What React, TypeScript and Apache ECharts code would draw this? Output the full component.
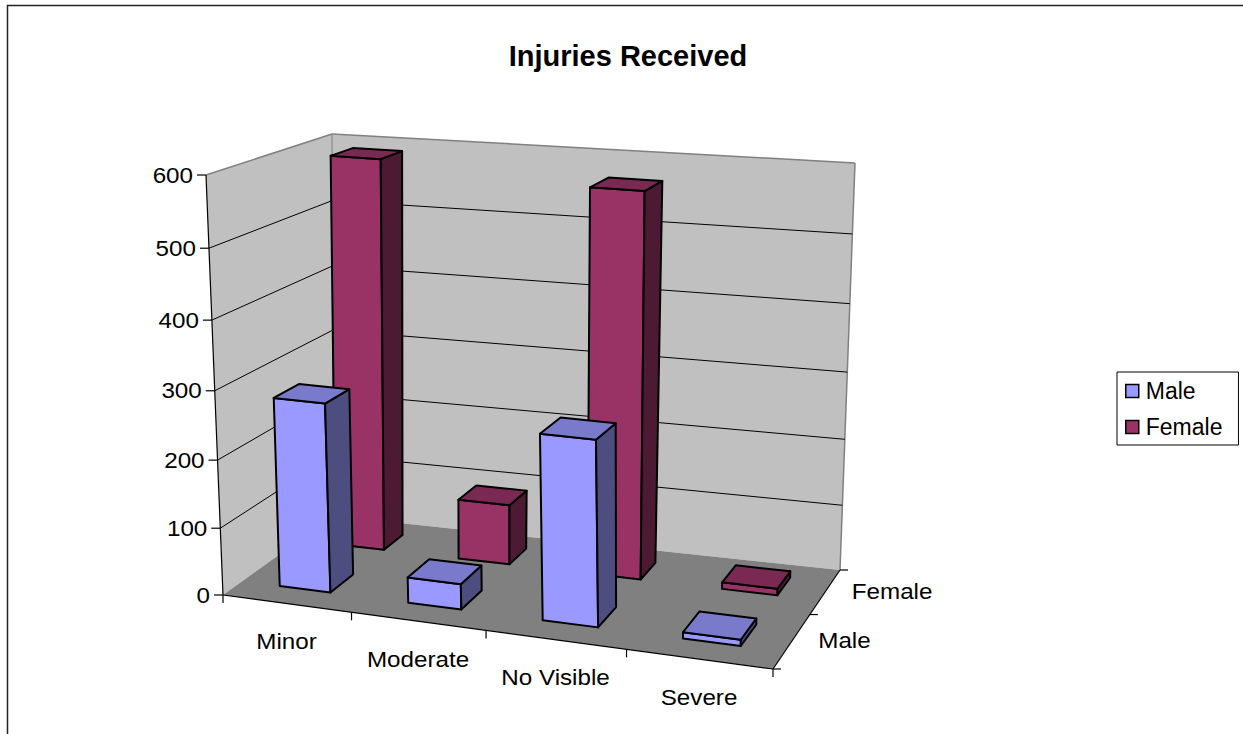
import React, { useEffect, useRef } from 'react';
import * as echarts from 'echarts';

const categories = ['Minor', 'Moderate', 'No Visible', 'Severe'];
const seriesNames = ['Male', 'Female'];
const maleValues = [280, 38, 270, 9];
const femaleValues = [590, 92, 570, 10];
const yTicks = [0, 100, 200, 300, 400, 500, 600];
const Y_MAX = 600;

const FONT = '"Liberation Sans", Arial, sans-serif';

// hidden helper grid: its scales map values to fractions of the 3D box
const GRID = { left: 0, top: 0, width: 400, height: 600 };

// screen corners of the 3D box floor and vertical vectors (full height)
const FL = [223, 595], FR = [773, 669], BL = [333, 516], BR = [840, 570];
const VFL = [-17, -420], VFR = [-3, -445], VBL = [-1, -382], VBR = [15, -407];

function bilin(a: number[], b: number[], c: number[], d: number[], sp: number, tp: number) {
  const fx = a[0] + sp * (b[0] - a[0]), fy = a[1] + sp * (b[1] - a[1]);
  const bx = c[0] + sp * (d[0] - c[0]), by = c[1] + sp * (d[1] - c[1]);
  return [fx + tp * (bx - fx), fy + tp * (by - fy)];
}
function proj(s: number, t: number, h: number) {
  const sp = s - 0.087 * s * (1 - s);
  const tp = t + 0.2 * t * (1 - t);
  const hp = h - 0.055 * h * (1 - h);
  const base = bilin(FL, FR, BL, BR, sp, tp);
  const v = bilin(VFL, VFR, VBL, VBR, sp, tp);
  return [base[0] + hp * v[0], base[1] + hp * v[1]];
}

const MALE_COLORS = { front: '#9999FF', side: '#4D4D80', top: '#7A7ACC' };
const FEMALE_COLORS = { front: '#993366', side: '#4D1A33', top: '#7A2952' };

function hOf(api: any, v: number) {
  const c = api.coord([0, v]);
  const b = api.coord([0, 0]);
  return (b[1] - c[1]) / GRID.height;
}

function makeBarRender(row: number, colors: any) {
  return (params: any, api: any) => {
    const idx = api.value(0);
    const val = api.value(1);
    const c = api.coord([idx, val]);
    const b = api.coord([idx, 0]);
    const band = api.size([1, 0])[0];
    const s0 = (c[0] - GRID.left - 0.2 * band) / GRID.width;
    const s1 = (c[0] - GRID.left + 0.2 * band) / GRID.width;
    const h = (b[1] - c[1]) / GRID.height;
    const nRows = seriesNames.length;
    const t0 = (row + 0.3) / nRows, t1 = (row + 0.7) / nRows;
    const face = (pts: number[][], fill: string) => ({
      type: 'polygon',
      shape: { points: pts },
      style: { fill, stroke: '#000', lineWidth: 2, lineJoin: 'round' },
    });
    return {
      type: 'group',
      children: [
        face([proj(s0, t0, 0), proj(s1, t0, 0), proj(s1, t0, h), proj(s0, t0, h)], colors.front),
        face([proj(s1, t0, 0), proj(s1, t1, 0), proj(s1, t1, h), proj(s1, t0, h)], colors.side),
        face([proj(s0, t0, h), proj(s1, t0, h), proj(s1, t1, h), proj(s0, t1, h)], colors.top),
      ],
    };
  };
}

function renderWalls(params: any, api: any) {
  const H = hOf(api, Y_MAX);
  const poly = (pts: number[][], fill: string) => ({ type: 'polygon', shape: { points: pts }, style: { fill, stroke: 'none' } });
  const ln = (a: number[], b: number[], stroke: string, w: number) => ({
    type: 'line', shape: { x1: a[0], y1: a[1], x2: b[0], y2: b[1] }, style: { stroke, lineWidth: w },
  });
  return {
    type: 'group',
    children: [
      poly([proj(0, 0, 0), proj(0, 1, 0), proj(0, 1, H), proj(0, 0, H)], '#C0C0C0'),
      poly([proj(0, 1, 0), proj(1, 1, 0), proj(1, 1, H), proj(0, 1, H)], '#C0C0C0'),
      poly([proj(0, 0, 0), proj(1, 0, 0), proj(1, 1, 0), proj(0, 1, 0)], '#808080'),
      ln(proj(0, 0, H), proj(0, 1, H), '#808080', 1.5),
      ln(proj(0, 1, H), proj(1, 1, H), '#808080', 1.5),
      ln(proj(0, 1, 0), proj(0, 1, H), '#808080', 1),
      ln(proj(1, 1, 0), proj(1, 1, H), '#808080', 1.5),
      ln(proj(0, 0, 0), proj(0, 0, H), '#000', 1.2),
      ln(proj(0, 0, 0), proj(1, 0, 0), '#000', 1.2),
      ln(proj(1, 0, 0), proj(1, 1, 0), '#000', 1.2),
    ],
  };
}

function renderGridTick(params: any, api: any) {
  const v = api.value(1);
  const h = hOf(api, v);
  const p = proj(0, 0, h);
  const children: any[] = [];
  if (v > 0 && v < Y_MAX) {
    children.push({
      type: 'polyline',
      shape: { points: [proj(0, 0, h), proj(0, 1, h), proj(1, 1, h)] },
      style: { stroke: '#000', lineWidth: 1, fill: 'none' },
    });
  }
  children.push({ type: 'line', shape: { x1: p[0] - 9, y1: p[1], x2: p[0], y2: p[1] }, style: { stroke: '#000', lineWidth: 1.2 } });
  children.push({
    type: 'text', x: p[0] - 13, y: p[1], scaleX: 1.1,
    style: { text: String(v), fontSize: 22, fontFamily: FONT, fill: '#000', align: 'right', verticalAlign: 'middle' },
  });
  return { type: 'group', children };
}

function renderCategory(params: any, api: any) {
  const i = params.dataIndex;
  const c = api.coord([api.value(0), 0]);
  const band = api.size([1, 0])[0];
  const sC = (c[0] - GRID.left) / GRID.width;
  const sL = (c[0] - GRID.left - band / 2) / GRID.width;
  const sR = (c[0] - GRID.left + band / 2) / GRID.width;
  const children: any[] = [];
  const pL = proj(sL, 0, 0);
  children.push({ type: 'line', shape: { x1: pL[0], y1: pL[1], x2: pL[0], y2: pL[1] + 8 }, style: { stroke: '#000', lineWidth: 1.2 } });
  if (i === categories.length - 1) {
    const pR = proj(sR, 0, 0);
    children.push({ type: 'line', shape: { x1: pR[0], y1: pR[1], x2: pR[0], y2: pR[1] + 8 }, style: { stroke: '#000', lineWidth: 1.2 } });
  }
  const pc = proj(sC, 0, 0);
  children.push({
    type: 'text', x: pc[0], y: pc[1] + 38, scaleX: 1.1,
    style: { text: categories[i], fontSize: 22, fontFamily: FONT, fill: '#000', align: 'center', verticalAlign: 'middle' },
  });
  return { type: 'group', children };
}

function renderDepth(params: any, api: any) {
  const r = params.dataIndex;
  const n = seriesNames.length;
  const children: any[] = [];
  const tick = (t: number) => {
    const p = proj(1, t, 0);
    return { type: 'line', shape: { x1: p[0], y1: p[1], x2: p[0] + 8, y2: p[1] }, style: { stroke: '#000', lineWidth: 1.2 } };
  };
  children.push(tick(r / n));
  if (r === n - 1) children.push(tick(1));
  const pc = proj(1, (r + 0.5) / n, 0);
  children.push({
    type: 'text', x: pc[0] + 26, y: pc[1], scaleX: 1.1,
    style: { text: seriesNames[r], fontSize: 22, fontFamily: FONT, fill: '#000', align: 'left', verticalAlign: 'middle' },
  });
  return { type: 'group', children };
}

export default function App() {
  const ref = useRef<HTMLDivElement>(null);
  useEffect(() => {
    if (!ref.current) return;
    const chart = echarts.init(ref.current, undefined, { renderer: 'svg' });
    chart.setOption({
      animation: false,
      backgroundColor: '#fff',
      title: {
        text: 'Injuries Received',
        left: 628,
        top: 41,
        textAlign: 'center',
        padding: 0,
        textStyle: { fontSize: 29, fontWeight: 'bold', fontFamily: FONT, color: '#000' },
      },
      legend: {
        data: [
          { name: 'Male', itemStyle: { borderColor: '#000', borderWidth: 1.5 } },
          { name: 'Female', itemStyle: { borderColor: '#000', borderWidth: 1.5 } },
        ],
        orient: 'vertical',
        left: 1117,
        top: 372,
        padding: [7, 16, 6, 8],
        itemGap: 12,
        itemWidth: 13,
        itemHeight: 13,
        icon: 'rect',
        borderColor: '#000',
        borderWidth: 1,
        textStyle: { fontSize: 23, fontFamily: FONT, color: '#000', lineHeight: 24, padding: [0, 0, 0, 2] },
      },
      graphic: [
        {
          type: 'rect',
          silent: true,
          z: -10,
          shape: { x: 7.5, y: 5.5, width: 1260, height: 760 },
          style: { fill: 'none', stroke: '#222', lineWidth: 1.5 },
        },
      ],
      grid: { ...GRID, show: false },
      xAxis: { type: 'category', data: categories, show: false },
      yAxis: { type: 'value', min: 0, max: Y_MAX, interval: 100, show: false },
      series: [
        { name: 'walls', type: 'custom', z: 1, clip: false, silent: true, renderItem: renderWalls, data: [[0, Y_MAX]] },
        { name: 'gridticks', type: 'custom', z: 2, clip: false, silent: true, renderItem: renderGridTick, data: yTicks.map((v) => [0, v]) },
        {
          name: 'Female', type: 'custom', z: 3, clip: false,
          itemStyle: { color: FEMALE_COLORS.front },
          renderItem: makeBarRender(1, FEMALE_COLORS),
          data: femaleValues.map((v, i) => [i, v]),
        },
        {
          name: 'Male', type: 'custom', z: 4, clip: false,
          itemStyle: { color: MALE_COLORS.front },
          renderItem: makeBarRender(0, MALE_COLORS),
          data: maleValues.map((v, i) => [i, v]),
        },
        { name: 'catlabels', type: 'custom', z: 5, clip: false, silent: true, renderItem: renderCategory, data: categories.map((c, i) => [i, 0]) },
        { name: 'depthlabels', type: 'custom', z: 5, clip: false, silent: true, renderItem: renderDepth, data: seriesNames.map(() => [0, 0]) },
      ],
    });
    return () => chart.dispose();
  }, []);
  return (
    <div
      ref={ref}
      style={{ position: 'absolute', left: 0, top: 0, width: 1243, height: 734, background: '#fff' }}
    />
  );
}
